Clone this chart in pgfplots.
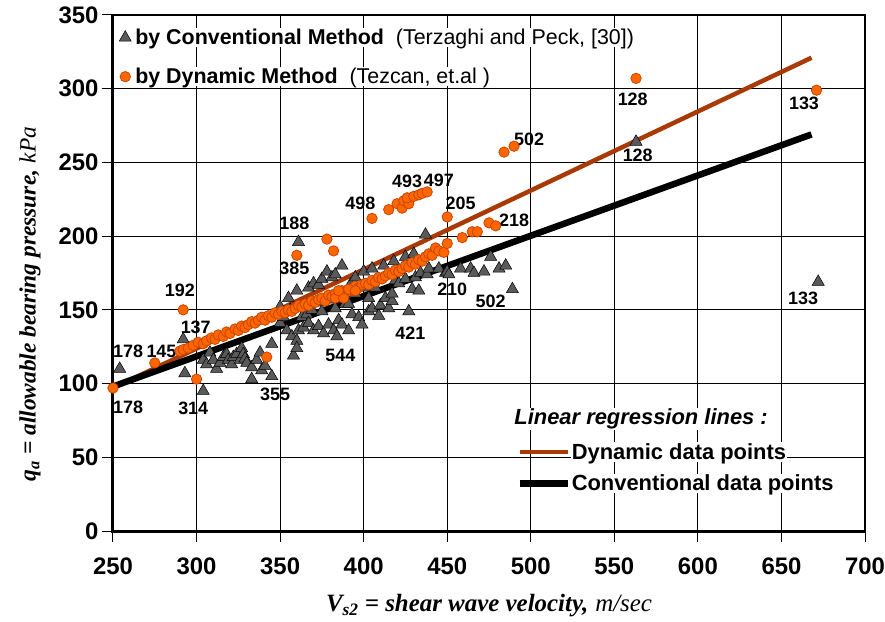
\documentclass[border=0pt]{standalone}
\usepackage{pgfplots}
\pgfplotsset{compat=1.18}
\usepackage{pgfplotstable}
\usepackage{fontspec}
\setmainfont{Liberation Sans}
\newfontfamily\serif{Liberation Serif}

\definecolor{dynfill}{RGB}{255,102,0}
\definecolor{dynedge}{RGB}{200,70,0}
\definecolor{convfill}{RGB}{90,90,90}
\definecolor{regbrown}{RGB}{168,58,5}

% conventional method (triangles)
\pgfplotstableread{
V q
254 110
292 130
304 95
293 107
304 116
306 113
308 121
310 116
312 110
314 114
316 118
318 120
319 116
321 113
322 118
324 120
326 116
327 124
328 120
329 117
330 114
333 111
333 103
336 116
338 121
339 109
341 112
345 127
345 105
350 141
350 152
352 145
354 136
355 158
356 150
357 132
358 119
360 129
360 124
360 163
361 136
361 196
363 145
364 138
366 147
367 141
367 165
369 150
370 136
370 168
372 155
373 139
373 167
375 149
375 171
376 134
378 157
378 176
379 140
381 172
382 136
383 151
383 174
384 132
385 143
386 160
387 140
387 180
389 154
391 136
391 154
392 167
393 147
395 161
395 172
397 145
399 140
400 176
401 165
403 149
403 158
405 151
405 178
407 165
409 146
410 153
412 180
413 158
415 151
417 156
417 161
418 183
419 170
421 168
425 171
425 186
427 149
429 164
430 188
431 172
433 163
434 175
437 201
438 174
439 178
445 178
449 175
450 176
451 174
458 178
464 178
466 175
472 176
476 186
481 178
485 180
489 164
563 264
672 169
}\conv

% dynamic method (circles)
\pgfplotstableread{
V q
250 97
275 114
292 150
300 103
342 118
290 122
292 123
295 124
298 126
301 128
304 127
306 129
309 131
311 130
313 133
316 132
318 135
320 134
323 137
325 136
327 139
329 138
331 140
333 142
335 141
337 143
339 145
341 143
343 146
345 145
347 148
349 147
351 149
353 148
355 150
357 149
359 151
361 153
363 152
365 154
367 153
369 156
371 155
373 157
375 158
377 156
379 160
381 159
383 161
385 160
387 163
389 162
391 164
393 163
395 166
397 165
399 167
401 168
403 167
405 170
407 169
409 172
411 171
413 173
415 175
417 174
419 177
421 176
423 178
425 180
427 179
429 182
431 181
433 184
435 183
437 186
439 188
441 187
443 192
445 190
448 189
383 158
388 158
391 164
395 163
385 163
360 187
378 198
382 190
405 212
415 218
420 222
423 219
424 224
427 222
426 226
430 227
433 228
435 229
438 230
450 213
450 195
459 199
465 203
468 203
475 209
479 207
484 257
490 261
563 307
671 299
}\dyn

\tikzset{lbl/.style={font=\fontsize{18}{18}\selectfont\bfseries, inner sep=0pt}}

\begin{document}
\begin{tikzpicture}
\useasboundingbox (-113bp,-91bp) rectangle (772bp,531bp);
\begin{axis}[
width=752bp, height=516bp,
scale only axis,
xmin=250, xmax=700,
ymin=0, ymax=350,
xtick={250,300,...,700},
ytick={0,50,...,350},
grid=major,
grid style={black, line width=0.9bp},
axis line style={line width=1.2bp},
tick pos=left,
tick align=outside,
major tick length=11bp,
tick style={black, line width=1bp},
/pgf/number format/assume math mode=true,
ticklabel style={font=\fontsize{24}{26}\selectfont\bfseries},
xticklabel style={yshift=-12bp},
xlabel={{\serif\bfseries\itshape V\textsubscript{s2} = shear wave velocity,} {\serif\itshape m/sec}},
ylabel={{\serif\bfseries\itshape q\textsubscript{a} = allowable bearing pressure,} {\serif\itshape kPa}},
every axis x label/.style={at={(axis description cs:0.5,0)}, anchor=center, yshift=-75bp,
  font=\fontsize{25}{26}\selectfont},
every axis y label/.style={at={(axis description cs:0,0.44)}, anchor=center, rotate=90, yshift=83bp,
  font=\fontsize{23.5}{25}\selectfont},
clip=false,
legend image code/.code={\draw[mark repeat=2,mark phase=2,#1] plot coordinates {(0bp,0bp) (8bp,0bp) (16bp,0bp)};},
legend style={at={(rel axis cs:0,1)}, anchor=north west, xshift=3bp, yshift=-11bp,
  draw=none, fill=none, font=\fontsize{21.5}{23}\selectfont,
  row sep=20bp, column sep=3bp, nodes={fill=white, inner sep=1bp}},
legend cell align=left,
]

\addplot[only marks, mark=triangle*, mark size=7bp,
  mark options={fill=convfill, draw=black, line width=0.5bp}]
  table[x=V, y=q] {\conv};
\addlegendentry{\textbf{by Conventional Method}\ \ (Terzaghi and Peck, [30])}

\addplot[only marks, mark=*, mark size=5.2bp,
  mark options={fill=dynfill, draw=dynedge, line width=0.8bp}]
  table[x=V, y=q] {\dyn};
\addlegendentry{\textbf{by Dynamic Method}\ \ (Tezcan, et.al )}

% regression lines
\addplot[regbrown, line width=4.5bp, forget plot] coordinates {(250,97) (668,321)};
\addplot[black, line width=6.5bp, forget plot] coordinates {(250,98) (668,269)};

\node[lbl] at (axis cs:259,122) {178};
\node[lbl] at (axis cs:259,84) {178};
\node[lbl] at (axis cs:279,122) {145};
\node[lbl] at (axis cs:290,163) {192};
\node[lbl] at (axis cs:299.5,138) {137};
\node[lbl] at (axis cs:298,83) {314};
\node[lbl] at (axis cs:347,93) {355};
\node[lbl] at (axis cs:386,119) {544};
\node[lbl] at (axis cs:358.5,209) {188};
\node[lbl] at (axis cs:358.5,178) {385};
\node[lbl] at (axis cs:398,222) {498};
\node[lbl] at (axis cs:426,237) {493};
\node[lbl] at (axis cs:445,238) {497};
\node[lbl] at (axis cs:458,222) {205};
\node[lbl] at (axis cs:490,211) {218};
\node[lbl] at (axis cs:499,266) {502};
\node[lbl] at (axis cs:453,164) {210};
\node[lbl] at (axis cs:428,134) {421};
\node[lbl] at (axis cs:476,156) {502};
\node[lbl] at (axis cs:561,293) {128};
\node[lbl] at (axis cs:564,255) {128};
\node[lbl] at (axis cs:663.5,290) {133};
\node[lbl] at (axis cs:663,158) {133};

\node[anchor=west, font=\fontsize{22}{24}\selectfont\bfseries\itshape, fill=white, inner sep=1bp]
  at (axis cs:489.5,76) {Linear regression lines :};

\draw[line width=3bp] (rel axis cs:0,1) -- (rel axis cs:0,0) -- (rel axis cs:1,0);
\end{axis}

\begin{axis}[
width=752bp, height=516bp,
scale only axis,
xmin=250, xmax=700,
ymin=0, ymax=350,
hide axis,
legend image code/.code={\draw[#1] (0bp,0bp) -- (48bp,0bp);},
legend style={at={(rel axis cs:0.532,0.176)}, anchor=north west,
  draw=none, fill=none, font=\fontsize{22}{24}\selectfont\bfseries,
  row sep=12bp, nodes={fill=white, inner sep=1bp}},
legend cell align=left,
]
\addplot[draw=none, mark=none, forget plot] coordinates {(300,100)};
\addlegendimage{regbrown, line width=4.5bp}
\addlegendentry{Dynamic data points}
\addlegendimage{black, line width=6.5bp}
\addlegendentry{Conventional data points}
\end{axis}
\end{tikzpicture}
\end{document}
